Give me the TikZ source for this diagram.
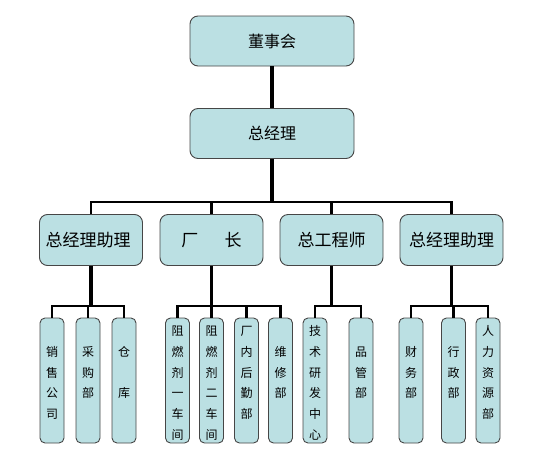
\documentclass[tikz,border=0pt]{standalone}
\usepackage{fontspec}
\setmainfont{Noto Sans CJK SC}
\definecolor{boxfill}{RGB}{187,224,227}
\definecolor{boxline}{RGB}{70,70,70}
\newcommand\Tl{\rule{0pt}{16.12pt}}
\newcommand\Bl{\rule[-2pt]{0pt}{2pt}}
\newcommand\vsix[6]{\Tl\mbox{#1}\\\mbox{#2}\\\mbox{#3}\\\mbox{#4}\\\mbox{#5}\\\mbox{#6}\Bl}
\begin{document}
\begin{tikzpicture}[x=1pt,y=-1pt,
  box/.style={draw=boxline,fill=boxfill,line width=0.9pt,rounded corners=8pt,inner sep=0pt},
  topbox/.style={box,minimum width=164pt,minimum height=50pt,font=\fontsize{16}{19}\selectfont},
  midbox/.style={box,minimum width=103pt,minimum height=51pt,font=\fontsize{17}{20}\selectfont},
  leaf/.style={box,rounded corners=5pt,minimum width=24pt,minimum height=125pt,align=center,font=\fontsize{12}{20.8}\selectfont},
  mainline/.style={line width=3.5pt},
  busline/.style={line width=2.6pt}]
\useasboundingbox (0,0) rectangle (537,463);

\node[topbox] (dsh) at (272,41) {董事会};
\node[topbox] (zjl) at (272,133.5) {总经理};

\node[midbox] (a1) at (91,240) {\hspace{-6pt}总经理助理\hspace{6pt}};
\node[midbox] (a2) at (211.5,240) {厂\hspace{26.5pt}长};
\node[midbox] (a3) at (331.5,240) {总工程师};
\node[midbox] (a4) at (451.5,240) {总经理助理};

\node[leaf] (b11) at (52,380.5) {\vsix{}{销}{售}{公}{司}{}};
\node[leaf] (b12) at (88,380.5) {\vsix{}{采}{购}{部}{}{}};
\node[leaf] (b13) at (124,380.5) {\vsix{}{仓}{}{库}{}{}};

\node[leaf] (b21) at (177.5,380.5) {\vsix{阻}{燃}{剂}{一}{车}{间}};
\node[leaf] (b22) at (211.5,380.5) {\vsix{阻}{燃}{剂}{二}{车}{间}};
\node[leaf] (b23) at (246.5,380.5) {\vsix{厂}{内}{后}{勤}{部}{}};
\node[leaf] (b24) at (280.5,380.5) {\vsix{}{维}{修}{部}{}{}};

\node[leaf] (b31) at (315,380.5) {\vsix{技}{术}{研}{发}{中}{心}};
\node[leaf] (b32) at (361,380.5) {\vsix{}{品}{管}{部}{}{}};

\node[leaf] (b41) at (411,380.5) {\vsix{}{财}{务}{部}{}{}};
\node[leaf] (b42) at (453.5,380.5) {\vsix{}{行}{政}{部}{}{}};
\node[leaf] (b43) at (488,380.5) {\vsix{人}{力}{资}{源}{部}{}};

\coordinate (bus) at (272,202);
\coordinate (s1) at (91,306);
\coordinate (s2) at (211.5,306);
\coordinate (s3) at (331.5,306);
\coordinate (s4) at (451.5,306);

\draw[mainline] (dsh.south) -- (zjl.north);
\draw[busline] (a1.north) |- (bus) -| (a4.north);
\draw[busline] (a2.north) -- (a2.north |- bus);
\draw[busline] (a3.north) -- (a3.north |- bus);
\draw[mainline] (zjl.south) -- (bus);

\draw[mainline] (a1.south) -- (s1);
\draw[busline] (b11.north) |- (s1) -| (b13.north);
\draw[busline] (b12.north) -- (b12.north |- s1);

\draw[mainline] (a2.south) -- (s2);
\draw[busline] (b21.north) |- (s2) -| (b24.north);
\draw[busline] (b22.north) -- (b22.north |- s2);
\draw[busline] (b23.north) -- (b23.north |- s2);

\draw[mainline] (a3.south) -- (s3);
\draw[busline] (b31.north) |- (s3) -| (b32.north);

\draw[mainline] (a4.south) -- (s4);
\draw[busline] (b41.north) |- (s4) -| (b43.north);
\draw[busline] (b42.north) -- (b42.north |- s4);
\end{tikzpicture}
\end{document}
